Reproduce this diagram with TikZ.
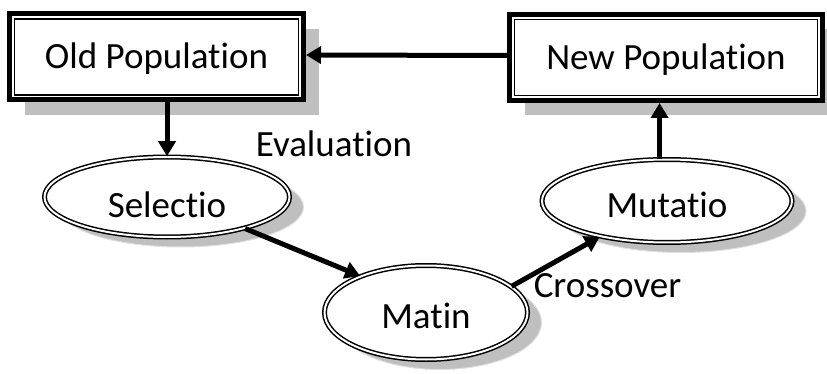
\documentclass[tikz,border=0pt]{standalone}
\usepackage{fontspec}
\setmainfont{Carlito}[Ligatures=NoCommon]
\usetikzlibrary{arrows.meta,shadows,shapes.geometric}
\begin{document}
\begin{tikzpicture}[x=1pt,y=-1pt,
  lbl/.style={font=\fontsize{37}{40}\selectfont, inner sep=0pt},
  popbox/.style={lbl, rectangle, draw, line width=5pt, minimum height=86pt,
    text height=24pt, text depth=0pt, fill=white,
    drop shadow={shadow xshift=15pt, shadow yshift=-15pt, fill=black!25, opacity=1},
    path picture={\draw[line width=1.2pt]
      ([xshift=5pt,yshift=-5pt]path picture bounding box.north west) rectangle
      ([xshift=-5pt,yshift=5pt]path picture bounding box.south east);}},
  opellipse/.style={lbl, ellipse, draw, line width=1.5pt, double=white,
    double distance=2pt, fill=white,
    drop shadow={shadow xshift=14pt, shadow yshift=-10pt, fill=black!25,
      draw=black!12, line width=1pt, opacity=1}},
  arr/.style={line width=5pt, -{Triangle[length=15pt,width=17pt]}}
]
\useasboundingbox[fill=white] (0,0) rectangle (827,374);

\node[popbox, minimum width=294pt] (old) at (156.5,57) {Old Population};
\node[popbox, minimum width=313pt] (new) at (666,57.5) {New Population};

\node[opellipse, minimum width=245pt, minimum height=80pt,
      text height=42pt, text depth=0pt] (sel) at (167,197) {Selectio};
\node[opellipse, minimum width=203pt, minimum height=94pt,
      text height=32pt, text depth=0pt] (mat) at (426,312.5) {Matin};
\node[opellipse, minimum width=250pt, minimum height=83pt,
      text height=34pt, text depth=0pt] (mut) at (667,201) {Mutatio};

\node[lbl, anchor=base] (eval) at (334,157) {Evaluation};
\node[lbl, anchor=base] (cross) at (607.5,297) {Crossover};

\draw[arr] ([yshift=2pt]new.west) -- ([yshift=2pt]old.east);
\draw[arr] (old.south -| sel.north) -- (sel.north);
\draw[arr] (sel.-22) -- (mat.151);
\draw[arr] (mat.17) -- (mut.-152);
\draw[arr] (mut.100) -- (new.south -| mut.100);
\end{tikzpicture}
\end{document}
